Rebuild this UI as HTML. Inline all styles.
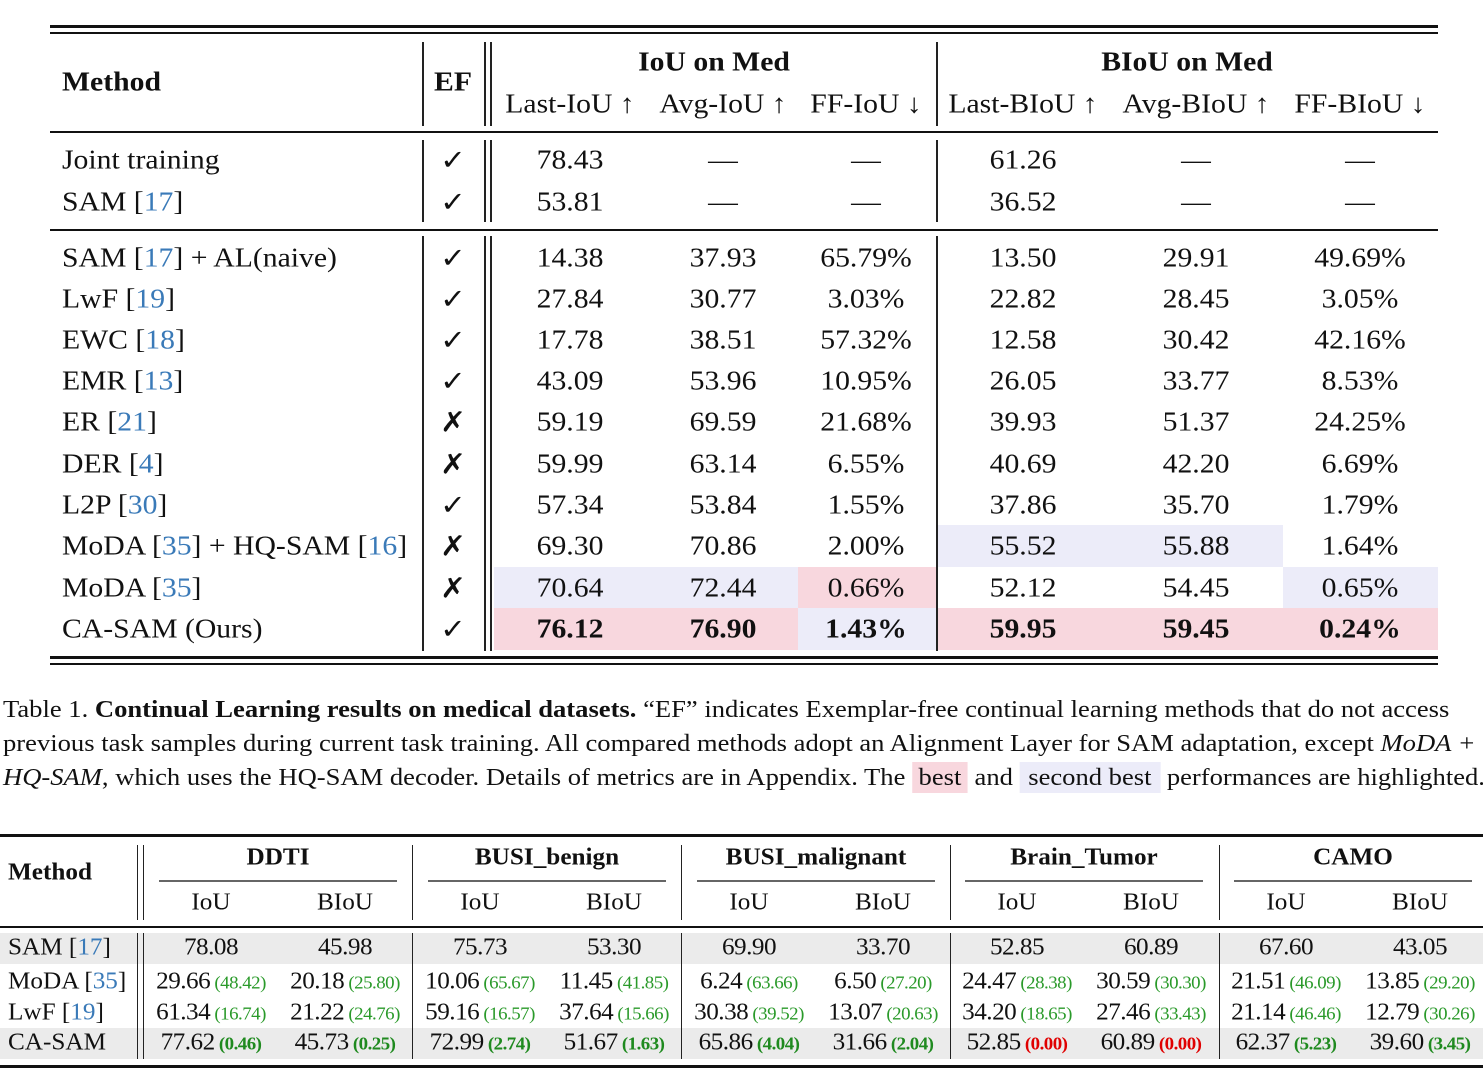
<!DOCTYPE html>
<html><head><meta charset="utf-8">
<style>
body{margin:0;background:#fff;width:1483px;height:1091px;overflow:hidden;position:relative;font-family:"Liberation Serif",serif;color:#111}
.a{position:absolute;white-space:nowrap}
.c{transform:translate(-50%,-50%) scaleX(1.1)}
.l{transform:translateY(-50%) scaleX(1.1);transform-origin:left center}
.c2{transform:translate(-50%,-50%) scaleX(1.05)}
.l2{transform:translateY(-50%) scaleX(1.05);transform-origin:left center}
.h{position:absolute;background:#111}
.v{position:absolute;background:#222;width:1.5px}
.ref{color:#3a7ab8}
.g{color:#2a9a2a;font-size:18px}
.gb{color:#1f8a1f;font-size:18px;font-weight:bold}
.r{color:#e00000;font-size:18px;font-weight:bold}
.ck{font-family:"DejaVu Sans",sans-serif;font-weight:bold;font-size:28px}
.cap{position:absolute;left:3px;font-size:24.5px;white-space:nowrap;transform:scaleX(1.085);transform-origin:left top}
</style></head><body>
<div id="t1"></div>
<div id="t2"></div>
<div class="cap" style="top:696px">Table 1. <b>Continual Learning results on medical datasets.</b> “EF” indicates Exemplar-free continual learning methods that do not access</div>
<div class="cap" style="top:730px">previous task samples during current task training. All compared methods adopt an Alignment Layer for SAM adaptation, except <i>MoDA +</i></div>
<div class="cap" style="top:764px"><i>HQ-SAM</i>, which uses the HQ-SAM decoder. Details of metrics are in Appendix. The <span style="background:#f8d7de;padding:2px 6px">best</span> and <span style="background:#ececf9;padding:2px 8px">second best</span> performances are highlighted.</div>
<script>
const methods1=["Joint training","SAM [17]","SAM [17] + AL(naive)","LwF [19]","EWC [18]","EMR [13]","ER [21]","DER [4]","L2P [30]","MoDA [35] + HQ-SAM [16]","MoDA [35]","CA-SAM (Ours)"];
const ef1=["✓","✓","✓","✓","✓","✓","✗","✗","✓","✗","✗","✓"];
const lastIoU=["78.43","53.81","14.38","27.84","17.78","43.09","59.19","59.99","57.34","69.30","70.64","76.12"];
const avgIoU=["—","—","37.93","30.77","38.51","53.96","69.59","63.14","53.84","70.86","72.44","76.90"];
const ffIoU=["—","—","65.79%","3.03%","57.32%","10.95%","21.68%","6.55%","1.55%","2.00%","0.66%","1.43%"];
const lastB=["61.26","36.52","13.50","22.82","12.58","26.05","39.93","40.69","37.86","55.52","52.12","59.95"];
const avgB=["—","—","29.91","28.45","30.42","33.77","51.37","42.20","35.70","55.88","54.45","59.45"];
const ffB=["—","—","49.69%","3.05%","42.16%","8.53%","24.25%","6.69%","1.79%","1.64%","0.65%","0.24%"];
const rowY=[160,202,258,299,340,381,422,464,505,546,588,629];
const colX=[570,723,866,1023,1196,1360];
const colEdges=[[494,647],[647,798],[798,936],[937,1110],[1110,1283],[1283,1438]];
const hl=[[9,3,'b'],[9,4,'b'],[10,0,'b'],[10,1,'b'],[10,2,'p'],[10,5,'b'],[11,0,'p'],[11,1,'p'],[11,2,'b'],[11,3,'p'],[11,4,'p'],[11,5,'p']];

const b=document.body;
function el(cls,style,html){const d=document.createElement('div');d.className=cls;d.style.cssText=style;if(html!==undefined)d.innerHTML=html;b.appendChild(d);return d;}
function refify(s){return s.replace(/\[(\d+)\]/g,'[<span class="ref">$1</span>]');}

hl.forEach(h=>{const e=colEdges[h[1]];const d=el('a',`left:${e[0]}px;top:${rowY[h[0]]-21}px;width:${e[1]-e[0]}px;height:42px;background:${h[2]=='p'?'#f8d7de':'#ececf9'}`);

});

[[25,3],[32,2],[131,1.5],[229,1.5],[656,3],[663,2]].forEach(r=>{const d=el('h',`left:50px;width:1388px;top:${r[0]}px;height:${r[1]}px`);

});
[422,484,490,936].forEach(x=>{[[42,126],[140,222],[236,651]].forEach(s=>{const d=el('v',`left:${x}px;top:${s[0]}px;height:${s[1]-s[0]}px`);

});});

const F='font-size:27px;';
let d=el('a l',F+'left:62px;top:82px;font-weight:bold','Method');


d=el('a c',F+'left:453px;top:82px;font-weight:bold','EF');


d=el('a c',F+'left:714px;top:62px;font-weight:bold','IoU on Med');


d=el('a c',F+'left:1187px;top:62px;font-weight:bold','BIoU on Med');


const subs=["Last-IoU ↑","Avg-IoU ↑","FF-IoU ↓","Last-BIoU ↑","Avg-BIoU ↑","FF-BIoU ↓"];
subs.forEach((s,i)=>{const d=el('a c',F+`left:${colX[i]}px;top:104px`,s);

});

const cols=[lastIoU,avgIoU,ffIoU,lastB,avgB,ffB];
methods1.forEach((m,i)=>{
 let d=el('a l',F+`left:62px;top:${rowY[i]}px`,refify(m));
 
 
 d=el('a c ck',`left:453px;top:${rowY[i]}px`,ef1[i]);
 
 
 cols.forEach((c,j)=>{const bold=(i==11);const d=el('a c',F+`left:${colX[j]}px;top:${rowY[i]}px;${bold?'font-weight:bold;':''}`,c[i]);
 
 });
});

const methods2=["SAM [17]","MoDA [35]","LwF [19]","CA-SAM"];
const groups=["DDTI","BUSI_benign","BUSI_malignant","Brain_Tumor","CAMO"];
const vals2=[
["78.08","45.98","75.73","53.30","69.90","33.70","52.85","60.89","67.60","43.05"],
["29.66","20.18","10.06","11.45","6.24","6.50","24.47","30.59","21.51","13.85"],
["61.34","21.22","59.16","37.64","30.38","13.07","34.20","27.46","21.14","12.79"],
["77.62","45.73","72.99","51.67","65.86","31.66","52.85","60.89","62.37","39.60"]];
const drops2=[
[],
["48.42","25.80","65.67","41.85","63.66","27.20","28.38","30.30","46.09","29.20"],
["16.74","24.76","16.57","15.66","39.52","20.63","18.65","33.43","46.46","30.26"],
["0.46","0.25","2.74","1.63","4.04","2.04","0.00","0.00","5.23","3.45"]];
const rowY2=[948,982,1013,1043];
const gx=[278,547,816,1084,1353];
const F2='font-size:24px;';
[0,3].forEach(i=>{const d=el('a',`left:0;width:1483px;top:${rowY2[i]-15}px;height:31px;background:#ebebeb`);

});
[[834,3],[926,2],[1065,3]].forEach(r=>{const d=el('h',`left:0;width:1483px;top:${r[0]}px;height:${r[1]}px`);

});
[137,143,412,681,950,1219].forEach(x=>{[[845,920],[933,1059]].forEach(s=>{const d=el('v',`left:${x}px;top:${s[0]}px;height:${s[1]-s[0]}px;width:1.2px`);

});});
d=el('a l2',F2+'left:8px;top:873px;font-weight:bold','Method');


groups.forEach((g,k)=>{
 let d=el('a c2',F2+`left:${gx[k]}px;top:858px;font-weight:bold`,g);
 
 
 d=el('a',`left:${gx[k]-119}px;width:238px;top:880px;height:1.5px;background:#666`);
 
 
 [["IoU",-67],["BIoU",67]].forEach(s=>{const d=el('a c2',F2+`left:${gx[k]+s[1]}px;top:903px`,s[0]);
 
 });
});
methods2.forEach((m,i)=>{
 let d=el('a l2',F2+`left:8px;top:${rowY2[i]}px`,refify(m));
 
 
 vals2[i].forEach((v,j)=>{
  const cx=gx[Math.floor(j/2)]+(j%2?67:-67);
  let html=v;
  if(drops2[i][j]!==undefined){const cls=i==3?(drops2[i][j]=="0.00"?'r':'gb'):'g';html+=`<span class="${cls}"> (${drops2[i][j]})</span>`;}
  const d=el('a c2',F2+`left:${cx}px;top:${rowY2[i]}px;letter-spacing:-0.5px`,html);
  
  
 });
});
</script>
</body></html>
